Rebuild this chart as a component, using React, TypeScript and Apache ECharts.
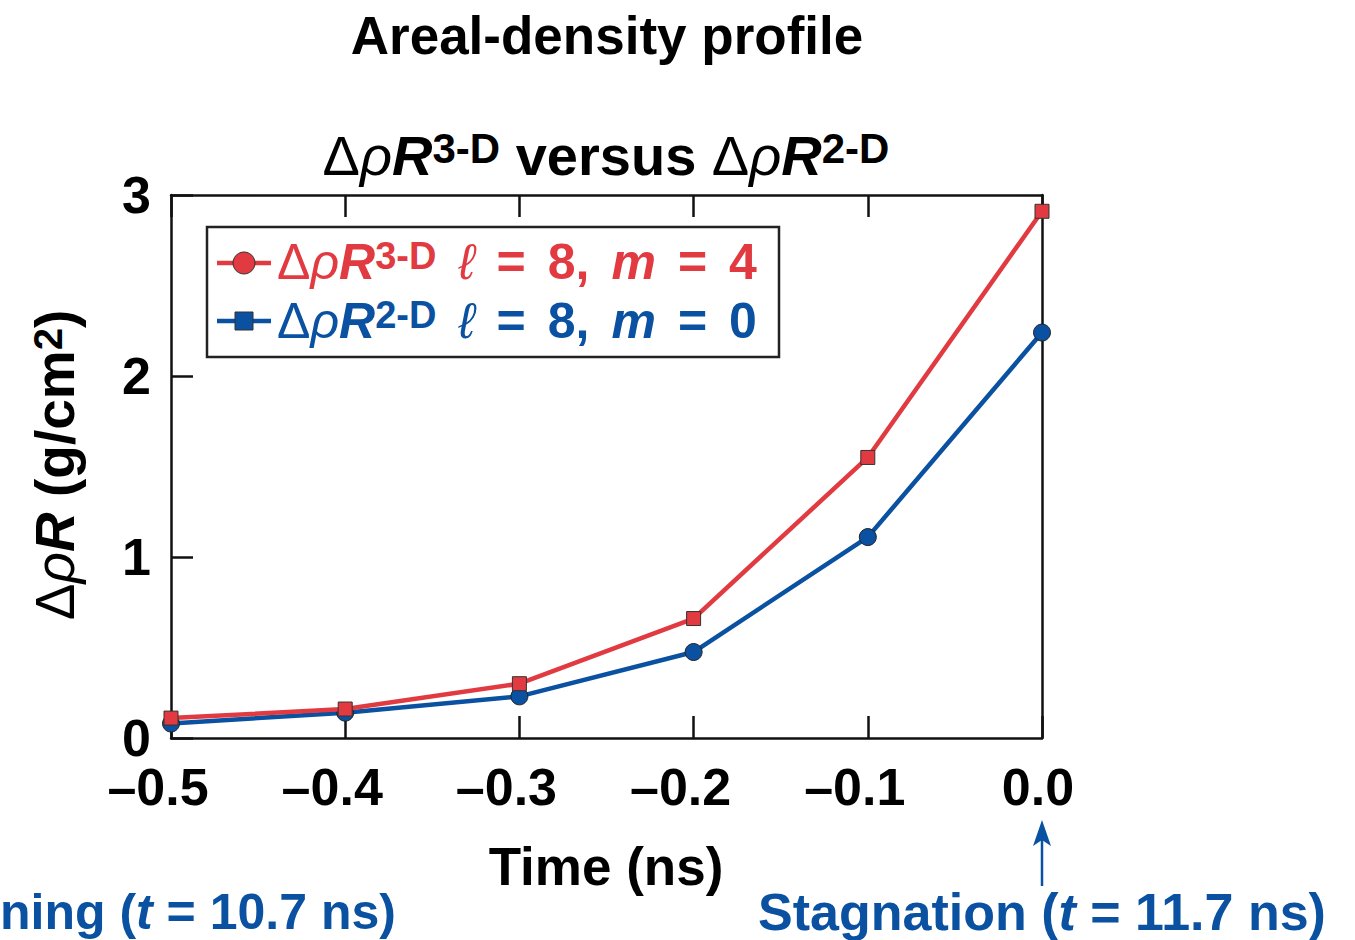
import React, { useEffect, useRef } from "react";
import * as echarts from "echarts";

const times = [-0.5, -0.4, -0.3, -0.2, -0.1, 0.0];
const rho3D = [0.11, 0.16, 0.3, 0.66, 1.55, 2.91];
const rho2D = [0.08, 0.14, 0.23, 0.475, 1.11, 2.24];
const xTicks = [-0.5, -0.4, -0.3, -0.2, -0.1, 0.0];
const yTicks = [0, 1, 2, 3];

const RED = "#E13A40";
const BLUE = "#0A51A1";
const FONT = "Liberation Sans";

function richSet(color: string, size: number, sup: number) {
  return {
    d: { fontFamily: FONT, fontSize: size, fontWeight: "normal", fill: color },
    r: { fontFamily: FONT, fontSize: size, fontWeight: "normal", fontStyle: "italic", fill: color },
    i: { fontFamily: FONT, fontSize: size, fontWeight: "bold", fontStyle: "italic", fill: color },
    b: { fontFamily: FONT, fontSize: size, fontWeight: "bold", fill: color },
    s: { fontFamily: FONT, fontSize: sup, fontWeight: "bold", fill: color, verticalAlign: "top" },
    l: { fontFamily: FONT, fontSize: size, fontWeight: "normal", fontStyle: "italic", fill: color },
    w: { fontFamily: FONT, fontSize: size, fontWeight: "bold", fill: color, width: 22 },
  };
}

export default function App() {
  const ref = useRef<HTMLDivElement>(null);
  useEffect(() => {
    document.body.style.margin = "0";
    const chart = echarts.init(ref.current!, undefined, { renderer: "svg" });
    const toPair = (arr: number[]) => times.map((t, i) => [t, arr[i]]);
    const fmt = (v: number) => {
      const s = v.toFixed(1).replace("-", "\u2013");
      return v < 0 ? `{n|${s}}` : `{p|${s}}`;
    };
    const axisLineStyle = { color: "#111", width: 2.5 };
    const labelRich = {
      n: { fontFamily: FONT, fontWeight: "bold", fontSize: 52, lineHeight: 42, color: "#000", padding: [0, 26, 0, 0] },
      p: { fontFamily: FONT, fontWeight: "bold", fontSize: 52, lineHeight: 42, color: "#000", padding: [0, 8, 0, 0] },
    };
    const legendText = (sup: string, mVal: string) =>
      `{d|\u0394}{r|\u03C1}{i|R}{s|${sup}}{w| }{l|\u2113}{w| }{b|=}{w| }{b|8,}{w| }{i|m}{w| }{b|=}{w| }{b|${mVal}}`;
    chart.setOption({
      animation: false,
      backgroundColor: "#ffffff",
      grid: { left: 171, right: 313, top: 195, bottom: 202 },
      xAxis: [
        {
          type: "value",
          position: "bottom",
          min: xTicks[0],
          max: xTicks[xTicks.length - 1],
          interval: 0.1,
          axisLine: { show: true, onZero: false, lineStyle: axisLineStyle },
          axisTick: { show: true, inside: true, length: 22, lineStyle: axisLineStyle },
          splitLine: { show: false },
          axisLabel: {
            formatter: fmt,
            rich: labelRich,
            margin: 28,
          },
        },
        {
          type: "value",
          position: "top",
          min: xTicks[0],
          max: xTicks[xTicks.length - 1],
          interval: 0.1,
          axisLine: { show: true, onZero: false, lineStyle: axisLineStyle },
          axisTick: { show: true, inside: true, length: 22, lineStyle: axisLineStyle },
          splitLine: { show: false },
          axisLabel: { show: false },
        },
      ],
      yAxis: [
        {
          type: "value",
          position: "left",
          min: yTicks[0],
          max: yTicks[yTicks.length - 1],
          interval: 1,
          axisLine: { show: true, onZero: false, lineStyle: axisLineStyle },
          axisTick: { show: true, inside: true, length: 22, lineStyle: axisLineStyle },
          splitLine: { show: false },
          axisLabel: {
            fontFamily: FONT,
            fontWeight: "bold",
            fontSize: 52,
            lineHeight: 40,
            color: "#000",
            margin: 20,
          },
        },
        {
          type: "value",
          position: "right",
          min: yTicks[0],
          max: yTicks[yTicks.length - 1],
          interval: 1,
          axisLine: { show: true, onZero: false, lineStyle: axisLineStyle },
          axisTick: { show: false },
          splitLine: { show: false },
          axisLabel: { show: false },
        },
      ],
      series: [
        {
          name: "2-D",
          type: "line",
          data: toPair(rho2D),
          symbol: "circle",
          symbolSize: 17,
          clip: false,
          z: 2,
          lineStyle: { color: BLUE, width: 4.5 },
          itemStyle: { color: BLUE, borderColor: "#222", borderWidth: 1 },
        },
        {
          name: "3-D",
          type: "line",
          data: toPair(rho3D),
          symbol: "rect",
          symbolSize: 14,
          clip: false,
          z: 3,
          lineStyle: { color: RED, width: 4.5 },
          itemStyle: { color: RED, borderColor: "#333", borderWidth: 1 },
        },
      ],
      graphic: [
        {
          type: "text",
          x: 607,
          y: 35,
          style: {
            text: "Areal-density profile",
            fontFamily: FONT,
            fontWeight: "bold",
            fontSize: 53,
            fill: "#000",
            textAlign: "center",
            textVerticalAlign: "middle",
          },
        },
        {
          type: "text",
          x: 606,
          y: 155,
          style: {
            text: "{d|\u0394}{r|\u03C1}{i|R}{s|3-D}{b| versus }{d|\u0394}{r|\u03C1}{i|R}{s|2-D}",
            rich: richSet("#000", 56, 42),
            textAlign: "center",
            textVerticalAlign: "middle",
          },
        },
        {
          type: "text",
          x: 606,
          y: 866,
          style: {
            text: "Time (ns)",
            fontFamily: FONT,
            fontWeight: "bold",
            fontSize: 53,
            fill: "#000",
            textAlign: "center",
            textVerticalAlign: "middle",
          },
        },
        {
          type: "text",
          x: 55,
          y: 465,
          rotation: Math.PI / 2,
          style: {
            text: "{d|\u0394}{r|\u03C1}{i|R}{b| (g/cm}{s|2}{b|)}",
            rich: richSet("#000", 55, 40),
            textAlign: "center",
            textVerticalAlign: "middle",
          },
        },
        {
          type: "rect",
          shape: { x: 207, y: 227, width: 572, height: 130 },
          style: { fill: "#fff", stroke: "#222", lineWidth: 2.5 },
          z: 10,
        },
        {
          type: "line",
          shape: { x1: 217, y1: 263, x2: 271, y2: 263 },
          style: { stroke: RED, lineWidth: 4.5 },
          z: 11,
        },
        {
          type: "circle",
          shape: { cx: 244, cy: 263, r: 11 },
          style: { fill: RED, stroke: "#333", lineWidth: 1 },
          z: 12,
        },
        {
          type: "line",
          shape: { x1: 217, y1: 321, x2: 271, y2: 321 },
          style: { stroke: BLUE, lineWidth: 4.5 },
          z: 11,
        },
        {
          type: "rect",
          shape: { x: 235, y: 312, width: 18, height: 18 },
          style: { fill: BLUE, stroke: "#333", lineWidth: 1 },
          z: 12,
        },
        {
          type: "text",
          x: 277,
          y: 262,
          z: 12,
          style: {
            text: legendText("3-D", "4"),
            rich: richSet(RED, 50, 38),
            textAlign: "left",
            textVerticalAlign: "middle",
          },
        },
        {
          type: "text",
          x: 277,
          y: 321,
          z: 12,
          style: {
            text: legendText("2-D", "0"),
            rich: richSet(BLUE, 50, 38),
            textAlign: "left",
            textVerticalAlign: "middle",
          },
        },
        {
          type: "text",
          x: 0,
          y: 912,
          style: {
            text: "{b|ning (}{i|t}{b| = 10.7 ns)}",
            rich: richSet(BLUE, 50, 36),
            textAlign: "left",
            textVerticalAlign: "middle",
          },
        },
        {
          type: "text",
          x: 1042,
          y: 912,
          style: {
            text: "{b|Stagnation (}{i|t}{b| = 11.7 ns)}",
            rich: richSet(BLUE, 52, 36),
            textAlign: "center",
            textVerticalAlign: "middle",
          },
        },
        {
          type: "line",
          shape: { x1: 1042, y1: 886, x2: 1042, y2: 834 },
          style: { stroke: BLUE, lineWidth: 2.5 },
        },
        {
          type: "polygon",
          shape: { points: [[1042, 820], [1033, 846], [1042, 840], [1051, 846]] },
          style: { fill: BLUE },
        },
      ],
    });
    return () => chart.dispose();
  }, []);
  return <div ref={ref} style={{ width: 1355, height: 940 }} />;
}
